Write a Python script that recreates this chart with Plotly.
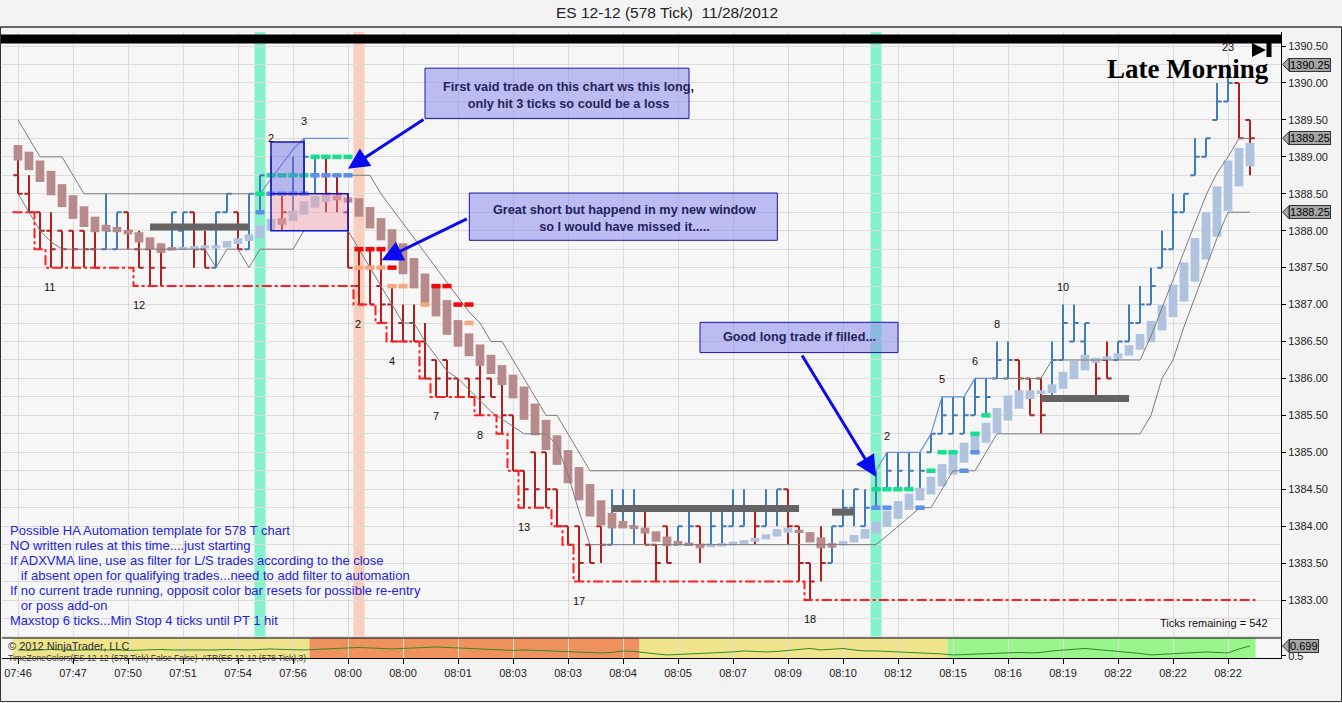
import plotly.graph_objects as go

# ---------------- data ----------------
time_labels = ["07:46", "07:47", "07:50", "07:51", "07:54", "07:56", "08:00", "08:00",
               "08:01", "08:03", "08:03", "08:04", "08:05", "08:07", "08:09", "08:10",
               "08:12", "08:15", "08:16", "08:19", "08:22", "08:22", "08:22"]
tick_bars = [0, 5, 10, 15, 20, 25, 30, 35, 40, 45, 50, 55, 60, 65, 70, 75, 80, 85, 90, 95, 100, 105, 110]

bar_open = [1388.75, 1388.5, 1388.25, 1388.0, 1388.0, 1388.0, 1388.0, 1387.75, 1387.75, 1387.75,
            1388.25, 1387.75, 1387.75, 1387.75, 1387.75, 1388.0, 1388.25, 1387.75, 1387.5, 1388.25,
            1388.25, 1387.75, 1388.5, 1388.5, 1388.5, 1388.25, 1388.75, 1388.75, 1389.0, 1388.75,
            1388.25, 1387.25, 1387.5, 1387.25, 1387.0, 1386.75, 1386.75, 1386.5, 1386.25, 1386.25,
            1386.0, 1386.0, 1386.0, 1386.0, 1386.0, 1385.5, 1384.75, 1385.0, 1385.0, 1384.5,
            1384.0, 1384.0, 1383.75, 1384.0, 1383.75, 1384.0, 1384.0, 1384.25, 1383.75, 1384.0,
            1383.75, 1383.75, 1384.0, 1383.75, 1383.75, 1384.0, 1384.0, 1384.25, 1384.0, 1384.25,
            1384.5, 1384.0, 1383.5, 1383.75, 1383.5, 1384.0, 1384.25, 1384.0, 1384.25, 1384.5,
            1384.5, 1384.5, 1384.5, 1385.0, 1385.25, 1385.25, 1385.25, 1385.5, 1385.5, 1386.0,
            1386.0, 1386.25, 1386.0, 1386.0, 1385.75, 1386.25, 1386.5, 1386.5, 1386.25, 1386.25,
            1386.25, 1386.5, 1386.75, 1387.0, 1387.5, 1387.75, 1388.25, 1388.75, 1389.0, 1389.5,
            1389.75, 1390.0, 1389.5]
bar_high = [1389.0, 1388.75, 1388.25, 1388.25, 1388.0, 1388.0, 1388.0, 1388.0, 1388.5, 1388.25,
            1388.25, 1388.0, 1387.75, 1387.75, 1388.25, 1388.25, 1388.25, 1388.0, 1388.25, 1388.5,
            1388.25, 1388.5, 1388.75, 1389.0, 1388.5, 1389.0, 1389.25, 1389.0, 1389.0, 1388.75,
            1388.5, 1387.75, 1387.75, 1387.75, 1387.25, 1387.0, 1387.0, 1386.75, 1386.25, 1386.25,
            1386.0, 1386.0, 1386.25, 1386.0, 1386.0, 1385.5, 1384.75, 1385.0, 1385.0, 1384.5,
            1384.0, 1384.0, 1383.75, 1384.0, 1384.5, 1384.5, 1384.5, 1384.25, 1383.75, 1384.0,
            1384.0, 1384.25, 1384.0, 1384.25, 1384.25, 1384.5, 1384.5, 1384.25, 1384.5, 1384.5,
            1384.5, 1384.0, 1383.5, 1384.0, 1384.0, 1384.5, 1384.5, 1384.5, 1384.75, 1385.0,
            1385.0, 1385.0, 1385.0, 1385.25, 1385.75, 1385.75, 1385.75, 1386.0, 1386.0, 1386.5,
            1386.5, 1386.25, 1386.0, 1386.0, 1386.5, 1387.0, 1387.0, 1386.75, 1386.25, 1386.5,
            1386.5, 1387.0, 1387.25, 1387.5, 1388.0, 1388.5, 1388.5, 1389.25, 1389.25, 1390.0,
            1390.25, 1390.0, 1389.5]
bar_low = [1388.5, 1388.25, 1387.75, 1387.5, 1387.5, 1387.5, 1387.5, 1387.5, 1387.75, 1387.75,
           1387.75, 1387.5, 1387.25, 1387.25, 1387.75, 1387.75, 1387.5, 1387.5, 1387.5, 1388.25,
           1387.75, 1387.75, 1388.25, 1388.5, 1388.0, 1388.25, 1388.5, 1388.5, 1388.25, 1388.25,
           1387.5, 1387.0, 1387.0, 1386.75, 1386.5, 1386.5, 1386.5, 1386.0, 1385.75, 1385.75,
           1385.75, 1385.75, 1385.5, 1385.75, 1385.25, 1384.75, 1384.25, 1384.25, 1384.25, 1384.0,
           1383.75, 1383.25, 1383.5, 1383.5, 1383.75, 1384.0, 1383.75, 1383.75, 1383.25, 1383.5,
           1383.75, 1383.75, 1383.5, 1383.75, 1383.75, 1384.0, 1384.0, 1383.75, 1384.0, 1384.0,
           1383.75, 1383.25, 1383.0, 1383.25, 1383.5, 1384.0, 1384.0, 1384.0, 1384.25, 1384.5,
           1384.5, 1384.5, 1384.5, 1385.0, 1385.25, 1385.25, 1385.25, 1385.5, 1385.5, 1386.0,
           1386.0, 1385.75, 1385.5, 1385.25, 1385.75, 1386.25, 1386.5, 1386.25, 1385.75, 1386.0,
           1386.25, 1386.5, 1386.75, 1387.0, 1387.5, 1387.75, 1388.25, 1388.75, 1389.0, 1389.5,
           1389.75, 1389.25, 1388.75]
bar_close = [1388.5, 1388.25, 1388.0, 1387.75, 1387.75, 1387.75, 1387.75, 1387.5, 1388.0, 1388.25,
             1388.0, 1387.5, 1387.5, 1387.5, 1388.25, 1388.25, 1387.75, 1387.5, 1388.25, 1388.5,
             1387.75, 1388.5, 1388.75, 1388.75, 1388.25, 1388.75, 1389.0, 1389.0, 1388.5, 1388.5,
             1387.5, 1387.0, 1387.0, 1387.0, 1386.5, 1386.5, 1386.5, 1386.0, 1386.0, 1386.0,
             1385.75, 1385.75, 1385.75, 1385.75, 1385.5, 1384.75, 1384.5, 1384.5, 1384.5, 1384.0,
             1383.75, 1383.5, 1383.5, 1383.75, 1384.25, 1384.25, 1384.25, 1383.75, 1383.5, 1383.5,
             1384.0, 1384.0, 1383.75, 1384.0, 1384.0, 1384.25, 1384.25, 1384.0, 1384.25, 1384.5,
             1384.0, 1383.5, 1383.25, 1383.5, 1384.0, 1384.25, 1384.5, 1384.25, 1384.5, 1384.75,
             1384.75, 1384.75, 1384.75, 1385.25, 1385.5, 1385.5, 1385.5, 1385.75, 1385.75, 1386.25,
             1386.25, 1386.0, 1385.5, 1385.5, 1386.25, 1386.75, 1386.75, 1386.75, 1386.0, 1386.0,
             1386.5, 1386.75, 1387.0, 1387.25, 1387.75, 1388.25, 1388.5, 1389.0, 1389.25, 1389.75,
             1390.0, 1389.25, 1389.25]

ha_open = [1389.16, 1389.07, 1388.95, 1388.81, 1388.63, 1388.48, 1388.33, 1388.19, 1388.08, 1388.05,
           1388.01, 1387.98, 1387.91, 1387.83, 1387.77, 1387.75, 1387.76, 1387.77, 1387.76, 1387.77,
           1387.82, 1387.86, 1387.90, 1388.00, 1388.17, 1388.13, 1388.22, 1388.31, 1388.39, 1388.48,
           1388.45, 1388.44, 1388.32, 1388.17, 1388.02, 1387.83, 1387.63, 1387.42, 1387.24, 1387.06,
           1386.79, 1386.61, 1386.46, 1386.32, 1386.18, 1386.05, 1385.89, 1385.66, 1385.44, 1385.23,
           1385.03, 1384.80, 1384.57, 1384.35, 1384.18, 1384.07, 1384.01, 1383.98, 1383.93, 1383.86,
           1383.80, 1383.765, 1383.76, 1383.73, 1383.74, 1383.74, 1383.76, 1383.79, 1383.82, 1383.86,
           1383.91, 1383.95, 1383.92, 1383.85, 1383.77, 1383.74, 1383.78, 1383.83, 1383.90, 1383.99,
           1384.10, 1384.22, 1384.35, 1384.43, 1384.54, 1384.70, 1384.86, 1384.98, 1385.13, 1385.26,
           1385.43, 1385.59, 1385.72, 1385.79, 1385.80, 1385.86, 1385.99, 1386.11, 1386.21, 1386.25,
           1386.27, 1386.31, 1386.39, 1386.49, 1386.65, 1386.83, 1387.04, 1387.31, 1387.61, 1387.92,
           1388.27, 1388.60, 1388.87]
ha_close = [1388.95, 1388.82, 1388.66, 1388.48, 1388.32, 1388.16, 1388.05, 1387.98, 1387.99, 1387.98,
            1387.95, 1387.84, 1387.75, 1387.70, 1387.74, 1387.77, 1387.78, 1387.79, 1387.80, 1387.86,
            1387.90, 1387.95, 1388.07, 1388.16, 1388.08, 1388.27, 1388.40, 1388.47, 1388.49, 1388.41,
            1388.38, 1388.19, 1388.03, 1387.87, 1387.71, 1387.41, 1387.22, 1387.02, 1386.84, 1386.59,
            1386.43, 1386.30, 1386.17, 1386.06, 1385.91, 1385.73, 1385.44, 1385.23, 1385.03, 1384.83,
            1384.58, 1384.35, 1384.13, 1384.01, 1383.97, 1383.97, 1383.96, 1383.90, 1383.79, 1383.73,
            1383.74, 1383.745, 1383.70, 1383.745, 1383.755, 1383.79, 1383.81, 1383.84, 1383.89, 1383.96,
            1383.98, 1383.91, 1383.78, 1383.70, 1383.71, 1383.80, 1383.88, 1383.96, 1384.06, 1384.21,
            1384.34, 1384.44, 1384.52, 1384.67, 1384.84, 1384.99, 1385.13, 1385.27, 1385.40, 1385.60,
            1385.77, 1385.84, 1385.84, 1385.84, 1385.92, 1386.09, 1386.24, 1386.32, 1386.28, 1386.30,
            1386.34, 1386.45, 1386.60, 1386.78, 1386.99, 1387.27, 1387.57, 1387.90, 1388.25, 1388.60,
            1388.95, 1389.12, 1389.19]

# channel lines (None = not drawn)
line_a = [1389.5, 1389.25, 1389.0, 1389.0, 1389.0, 1388.75, 1388.5, 1388.5, 1388.5, 1388.5,
          1388.5, 1388.5, 1388.5, 1388.5, 1388.5, 1388.5, 1388.5, 1388.5, 1388.5, 1388.5,
          1388.5, 1388.5, None, None, None, None, None, None, None, None,
          1388.75, 1388.75, 1388.75, 1388.5, 1388.3, 1388.1, 1387.9, 1387.7, 1387.5, 1387.3,
          1387.1, 1386.9, 1386.75, 1386.5, 1386.5, 1386.25, 1386.0, 1385.75, 1385.5, 1385.5,
          1385.25, 1385.0, 1384.75, 1384.75, 1384.75, 1384.75, 1384.75, 1384.75, 1384.75, 1384.75,
          1384.75, 1384.75, 1384.75, 1384.75, 1384.75, 1384.75, 1384.75, 1384.75, 1384.75, 1384.75,
          1384.75, 1384.75, 1384.75, 1384.75, 1384.75, 1384.75, 1384.75, 1384.75, 1384.75, None,
          None, None, None, None, None, None, None, None, None, 1386.0,
          1386.0, 1386.0, 1386.0, 1386.0, 1386.25, 1386.25, 1386.25, 1386.25, 1386.25, 1386.25,
          1386.25, 1386.25, 1386.25, 1386.57, 1386.95, 1387.33, 1387.7, 1388.1, 1388.48, 1388.78,
          1389.0, 1389.25, 1389.25]
line_b = [1388.5, 1388.25, 1388.0, 1387.85, 1387.75, 1387.75, 1387.75, 1387.75, 1387.75, 1387.75,
          1387.75, 1387.75, 1387.75, 1387.75, 1387.75, 1387.75, 1387.75, 1387.75, 1387.5, 1387.75,
          1387.75, 1387.5, 1387.75, 1387.75, 1387.75, 1387.75, 1388.0, 1388.0, 1388.0, 1388.0,
          1388.0, 1387.75, 1387.5, 1387.25, 1387.0, 1386.75, 1386.75, 1386.5, 1386.3, 1386.1,
          1386.0, 1385.85, 1385.7, 1385.55, 1385.45, 1385.35, 1385.25, 1385.25, 1385.25, 1385.1,
          1384.7, 1384.2, 1383.75, 1383.75, 1383.75, 1383.75, 1383.75, 1383.75, 1383.75, 1383.75,
          1383.75, 1383.75, 1383.75, 1383.75, 1383.75, 1383.75, 1383.75, 1383.75, 1383.75, 1383.75,
          1383.75, 1383.75, 1383.75, 1383.75, 1383.75, 1383.75, 1383.75, 1383.75, 1383.75, 1383.87,
          1384.0, 1384.12, 1384.25, 1384.25, 1384.5, 1384.75, 1384.75, 1384.75, 1385.0, 1385.25,
          1385.25, 1385.25, 1385.25, 1385.25, 1385.25, 1385.25, 1385.25, 1385.25, 1385.25, 1385.25,
          1385.25, 1385.25, 1385.25, 1385.5, 1386.0, 1386.25, 1386.7, 1387.1, 1387.5, 1387.9,
          1388.25, 1388.25, 1388.25]

trail1_bars = [21, 22, 23, 24, 25, 26, 27, 28, 29, 30]
trail1 = [1388.5, 1388.5, 1388.7, 1388.9, 1389.1, 1389.25, 1389.25, 1389.25, 1389.25, 1389.25]
trail2_bars = [78, 79, 80, 81, 82, 83, 84, 85, 86, 87, 88, 89]
trail2 = [1384.75, 1385.0, 1385.0, 1385.0, 1385.0, 1385.25, 1385.75, 1385.75, 1385.75, 1386.0, 1386.0, 1386.0]

stop_line = [1388.25, 1388.25, 1387.75, 1387.5, 1387.5, 1387.5, 1387.5, 1387.5, 1387.5, 1387.5,
             1387.5, 1387.25, 1387.25, 1387.25, 1387.25, 1387.25, 1387.25, 1387.25, 1387.25, 1387.25,
             1387.25, 1387.25, 1387.25, 1387.25, 1387.25, 1387.25, 1387.25, 1387.25, 1387.25, 1387.25,
             1387.25, 1387.0, 1387.0, 1386.75, 1386.5, 1386.5, 1386.5, 1386.0, 1385.75, 1385.75,
             1385.75, 1385.75, 1385.5, 1385.5, 1385.25, 1384.75, 1384.25, 1384.25, 1384.25, 1384.0,
             1383.75, 1383.25, 1383.25, 1383.25, 1383.25, 1383.25, 1383.25, 1383.25, 1383.25, 1383.25,
             1383.25, 1383.25, 1383.25, 1383.25, 1383.25, 1383.25, 1383.25, 1383.25, 1383.25, 1383.25,
             1383.25, 1383.25, 1383.0, 1383.0, 1383.0, 1383.0, 1383.0, 1383.0, 1383.0, 1383.0,
             1383.0, 1383.0, 1383.0, 1383.0, 1383.0, 1383.0, 1383.0, 1383.0, 1383.0, 1383.0,
             1383.0, 1383.0, 1383.0, 1383.0, 1383.0, 1383.0, 1383.0, 1383.0, 1383.0, 1383.0,
             1383.0, 1383.0, 1383.0, 1383.0, 1383.0, 1383.0, 1383.0, 1383.0, 1383.0, 1383.0,
             1383.0, 1383.0, 1383.0]

# ADXVMA flat segments: (first bar, last bar, value)
adx_segments = [(12, 21, 1388.05), (54, 71, 1384.24), (74, 76, 1384.19), (93, 101, 1385.73)]

# trade level dashes
target_green_bars = [22, 23, 24, 25, 26, 27, 28, 29, 30, 78, 79, 80, 81, 83, 84, 85, 87, 88]
target_green = [1388.5, 1388.75, 1388.75, 1388.75, 1388.75, 1389.0, 1389.0, 1389.0, 1389.0,
                1384.5, 1384.5, 1384.5, 1384.5, 1384.75, 1385.0, 1385.0, 1385.25, 1385.5]
entry_blue_bars = [22, 23, 24, 25, 26, 27, 28, 29, 30, 78, 79, 82, 86, 87]
entry_blue = [1388.25, 1388.5, 1388.5, 1388.5, 1388.5, 1388.75, 1388.75, 1388.75, 1388.75,
              1384.25, 1384.25, 1384.25, 1384.75, 1385.0]
short_red_bars = [31, 32, 33, 34, 38, 39, 40, 41]
short_red = [1387.75, 1387.75, 1387.75, 1387.5, 1387.25, 1387.25, 1387.0, 1387.0]
short_orange_bars = [31, 32, 33, 34, 35, 37, 41]
short_orange = [1387.5, 1387.5, 1387.5, 1387.25, 1387.25, 1387.0, 1386.75]

atr = [0.62, 0.61, 0.62, 0.63, 0.62, 0.61, 0.62, 0.62, 0.63, 0.62,
       0.61, 0.62, 0.62, 0.63, 0.62, 0.62, 0.61, 0.62, 0.62, 0.63,
       0.62, 0.62, 0.63, 0.64, 0.63, 0.62, 0.62, 0.63, 0.64, 0.65,
       0.66, 0.67, 0.66, 0.65, 0.64, 0.65, 0.66, 0.67, 0.68, 0.67,
       0.66, 0.65, 0.64, 0.63, 0.62, 0.61, 0.62, 0.61, 0.60, 0.60,
       0.59, 0.58, 0.57, 0.56, 0.57, 0.60, 0.59, 0.56, 0.54, 0.52,
       0.53, 0.54, 0.55, 0.55, 0.56, 0.58, 0.60, 0.59, 0.58, 0.59,
       0.61, 0.63, 0.65, 0.62, 0.63, 0.65, 0.62, 0.60, 0.60, 0.59,
       0.58, 0.57, 0.57, 0.56, 0.54, 0.52, 0.53, 0.54, 0.55, 0.56,
       0.56, 0.57, 0.56, 0.57, 0.60, 0.62, 0.64, 0.65, 0.63, 0.61,
       0.60, 0.58, 0.55, 0.52, 0.53, 0.54, 0.55, 0.57, 0.58, 0.57,
       0.56, 0.64, 0.699]

# time-zone colour bands in the lower panel: (from bar, to bar, colour)
zone_bands = [(-0.5, 26.5, "#EFE38C"), (26.5, 56.5, "#F0925E"), (56.5, 84.5, "#EFE38C"), (84.5, 112.5, "#9AF58C")]
# highlighted bars
signal_bars = [(22, "#86F2CB"), (31, "#F8CFBC"), (78, "#86F2CB")]

# trade boxes (bar from, bar to, price low, price high)
long_box = (23.0, 26.0, 1388.5, 1389.2)
stop_box = (23.0, 30.0, 1388.0, 1388.5)

count_bars = [2.9, 11.0, 23.0, 26.0, 30.9, 34.0, 38.0, 42.0, 46.0, 51.0, 72.0, 79.0, 84.0, 87.0, 89.0, 95.0, 110.0]
count_prices = [1387.24, 1387.0, 1389.25, 1389.48, 1386.74, 1386.24, 1385.49, 1385.23, 1383.99, 1382.99,
                1382.74, 1385.22, 1385.99, 1386.24, 1386.74, 1387.24, 1390.49]
count_texts = ["11", "12", "2", "3", "2", "4", "7", "8", "13", "17", "18", "2", "5", "6", "8", "10", "23"]

callouts = [
    dict(box=(37.0, 61.0, 1389.52, 1390.20), tx=50.0, ty=1389.83,
         text="First vaid trade on this chart ws this long,<br>only hit 3 ticks so could be a loss",
         head=(30.0, 1388.84), tail=(37.0, 1389.52)),
    dict(box=(41.03, 69.03, 1387.87, 1388.51), tx=55.1, ty=1388.17,
         text="Great short but happend in my new window<br>so I would have missed it.....",
         head=(33.06, 1387.60), tail=(40.94, 1388.17)),
    dict(box=(62.0, 80.0, 1386.35, 1386.76), tx=71.0, ty=1386.56,
         text="Good long trade if filled...",
         head=(78.0, 1384.67), tail=(71.2, 1386.33)),
]

notes = ["Possible HA Automation template for 578 T chart",
         "NO written rules at this time....just starting",
         "If ADXVMA line, use as filter for L/S trades according to the close",
         "\u00a0\u00a0\u00a0if absent open for qualifying trades...need to add filter to automation",
         "If no current trade running, opposit color bar resets for possible re-entry",
         "\u00a0\u00a0\u00a0or poss add-on",
         "Maxstop 6 ticks...Min Stop 4 ticks until PT 1 hit"]

price_markers = [1390.25, 1389.25, 1388.25]
atr_marker = 0.699

# ---------------- geometry ----------------
W, H = 1342, 703
ML, MR, MT, MB = 2, 61, 32, 45
PW, PH = W - ML - MR, H - MT - MB
IND_FRAC = 20 / PH
FONT = "Liberation Sans, Arial, sans-serif"
Y_LO, Y_HI = 1382.486, 1390.69


def px_x(px):
    return (px - ML) / PW


def px_y(py):
    return 1 - (py - MT) / PH


bars = list(range(len(bar_open)))
fig = go.Figure()

# real OHLC bars
fig.add_trace(go.Ohlc(
    x=bars, open=bar_open, high=bar_high, low=bar_low, close=bar_close,
    increasing=dict(line=dict(color="#3E7DB9", width=2)),
    decreasing=dict(line=dict(color="#B0201E", width=2)),
    tickwidth=0.42, showlegend=False, hoverinfo="skip", xaxis="x", yaxis="y"))

# Heikin-Ashi bodies
up_x, up_y, dn_x, dn_y = [], [], [], []
for i, (o, c) in enumerate(zip(ha_open, ha_close)):
    lo, hi = min(o, c), max(o, c)
    if hi - lo < 0.045:
        mid = (hi + lo) / 2
        lo, hi = mid - 0.0225, mid + 0.0225
    if c >= o:
        up_x += [i, i, None]
        up_y += [lo, hi, None]
    else:
        dn_x += [i, i, None]
        dn_y += [lo, hi, None]
fig.add_trace(go.Scatter(x=dn_x, y=dn_y, mode="lines", line=dict(color="#B78B8B", width=8.7),
                         showlegend=False, hoverinfo="skip"))
fig.add_trace(go.Scatter(x=up_x, y=up_y, mode="lines", line=dict(color="#AFC3DE", width=8.7),
                         showlegend=False, hoverinfo="skip"))

# channel lines
fig.add_trace(go.Scatter(x=bars, y=line_a, mode="lines", line=dict(color="#7C7C7C", width=1),
                         connectgaps=False, showlegend=False, hoverinfo="skip"))
fig.add_trace(go.Scatter(x=bars, y=line_b, mode="lines", line=dict(color="#7C7C7C", width=1),
                         showlegend=False, hoverinfo="skip"))
fig.add_trace(go.Scatter(x=trail1_bars, y=trail1, mode="lines", line=dict(color="#6B8FD6", width=1.2),
                         showlegend=False, hoverinfo="skip"))
fig.add_trace(go.Scatter(x=trail2_bars, y=trail2, mode="lines", line=dict(color="#6B8FD6", width=1.2),
                         showlegend=False, hoverinfo="skip"))

# stop line (step)
stop_x = [i - 0.5 for i in bars] + [len(bars) - 0.5]
stop_y = stop_line + [stop_line[-1]]
fig.add_trace(go.Scatter(x=stop_x, y=stop_y, mode="lines",
                         line=dict(color="#FF1E1E", width=2, dash="10px,3px,3px,3px", shape="hv"),
                         showlegend=False, hoverinfo="skip"))

# ADXVMA flat segments
ax_, ay_ = [], []
for b0, b1, v in adx_segments:
    ax_ += [b0, b1, None]
    ay_ += [v, v, None]
fig.add_trace(go.Scatter(x=ax_, y=ay_, mode="lines", line=dict(color="#646464", width=7),
                         showlegend=False, hoverinfo="skip"))

# trade level dashes
for xs, ys, col in [(entry_blue_bars, entry_blue, "#5E8FE6"), (target_green_bars, target_green, "#12E08E"),
                    (short_orange_bars, short_orange, "#F5A77F"), (short_red_bars, short_red, "#EE0A0A")]:
    fig.add_trace(go.Scatter(x=xs, y=ys, mode="markers",
                             marker=dict(symbol="line-ew", size=6.5, line=dict(color=col, width=4.5)),
                             showlegend=False, hoverinfo="skip"))

# ATR line in lower panel
fig.add_trace(go.Scatter(x=bars, y=atr, mode="lines", line=dict(color="#2E8B2E", width=1),
                         xaxis="x", yaxis="y2", showlegend=False, hoverinfo="skip"))

shapes = []
for b, col in signal_bars:
    shapes.append(dict(type="rect", xref="x", yref="y domain", x0=b - 0.5, x1=b + 0.5, y0=0, y1=1,
                       fillcolor=col, line=dict(width=0), layer="below"))
for b0, b1, col in zone_bands:
    shapes.append(dict(type="rect", xref="x", yref="y2 domain", x0=b0, x1=b1, y0=0, y1=1,
                       fillcolor=col, line=dict(width=0), layer="below"))
shapes.append(dict(type="rect", xref="x", yref="y", x0=long_box[0], x1=long_box[1], y0=long_box[2], y1=long_box[3],
                   fillcolor="rgba(105,105,230,0.45)", line=dict(color="#1414C8", width=1.5), layer="above"))
shapes.append(dict(type="rect", xref="x", yref="y", x0=stop_box[0], x1=stop_box[1], y0=stop_box[2], y1=stop_box[3],
                   fillcolor="rgba(240,150,165,0.42)", line=dict(color="#1414C8", width=1.5), layer="above"))
for c in callouts:
    b0, b1, p0, p1 = c["box"]
    shapes.append(dict(type="rect", xref="x", yref="y", x0=b0, x1=b1, y0=p0, y1=p1,
                       fillcolor="rgba(140,140,238,0.55)", line=dict(color="#1818A8", width=1), layer="above"))
# top black bar and end-of-chart glyph
shapes.append(dict(type="rect", xref="paper", yref="paper", x0=px_x(0), x1=px_x(1281), y0=px_y(43.5), y1=px_y(34.5),
                   fillcolor="black", line=dict(width=0), layer="above"))
shapes.append(dict(type="path", xref="paper", yref="paper",
                   path=f"M {px_x(1252)} {px_y(43)} L {px_x(1266)} {px_y(50)} L {px_x(1252)} {px_y(57)} Z",
                   fillcolor="black", line=dict(width=0), layer="above"))
shapes.append(dict(type="rect", xref="paper", yref="paper", x0=px_x(1266.5), x1=px_x(1271.5), y0=px_y(57), y1=px_y(40),
                   fillcolor="black", line=dict(width=0), layer="above"))
# panel separators and frame
shapes.append(dict(type="line", xref="paper", yref="paper", x0=0, x1=1, y0=IND_FRAC, y1=IND_FRAC,
                   line=dict(color="black", width=1), layer="above"))
shapes.append(dict(type="line", xref="paper", yref="paper", x0=px_x(0), x1=px_x(W), y0=px_y(27), y1=px_y(27),
                   line=dict(color="#444444", width=1), layer="above"))
shapes.append(dict(type="rect", xref="paper", yref="paper", x0=px_x(0.5), x1=px_x(W - 0.5), y0=px_y(H - 1.5), y1=px_y(27),
                   line=dict(color="#333333", width=1), fillcolor="rgba(0,0,0,0)", layer="above"))
# price marker pointers
d = 6.5 / (PH * (1 - IND_FRAC)) * (Y_HI - Y_LO)
for p in price_markers:
    shapes.append(dict(type="path", xref="paper", yref="y",
                       path=f"M {px_x(1282.5)} {p} L {px_x(1289)} {p + d} L {px_x(1289)} {p - d} Z",
                       fillcolor="#A6A6A6", line=dict(color="#333333", width=1), layer="above"))
d2 = 6.5 / 20 * 0.4
shapes.append(dict(type="path", xref="paper", yref="y2",
                   path=f"M {px_x(1282.5)} {atr_marker} L {px_x(1289)} {atr_marker + d2} L {px_x(1289)} {atr_marker - d2} Z",
                   fillcolor="#A6A6A6", line=dict(color="#333333", width=1), layer="above"))

ann = []
ann.append(dict(xref="paper", yref="paper", x=px_x(667), y=px_y(13), yanchor="middle",
                text="ES 12-12 (578 Tick)  11/28/2012",
                showarrow=False, font=dict(family=FONT, size=15.5, color="#222222")))
for b, p, t in zip(count_bars, count_prices, count_texts):
    ann.append(dict(x=b, y=p, xref="x", yref="y", text=t, showarrow=False,
                    font=dict(family=FONT, size=11, color="#111111")))
for c in callouts:
    ann.append(dict(x=c["tx"], y=c["ty"], xref="x", yref="y", text="<b>" + c["text"] + "</b>", showarrow=False,
                    align="center", font=dict(family=FONT, size=12.7, color="#22225E")))
    ann.append(dict(x=c["head"][0], y=c["head"][1], ax=c["tail"][0], ay=c["tail"][1], xref="x", yref="y",
                    axref="x", ayref="y", text="", showarrow=True, arrowhead=2, arrowsize=1.4, arrowwidth=3,
                    arrowcolor="#0A0AF0", standoff=0))
for k, line in enumerate(notes):
    ann.append(dict(xref="paper", yref="paper", x=px_x(8), y=px_y(530 + 15.1 * k), xanchor="left", yanchor="middle",
                    text=line, showarrow=False, font=dict(family=FONT, size=13, color="#2424DA")))
ann.append(dict(xref="paper", yref="paper", x=px_x(1270), y=px_y(623), xanchor="right", yanchor="middle",
                text="Ticks remaining = 542", showarrow=False, font=dict(family=FONT, size=11, color="#111111")))
ann.append(dict(xref="paper", yref="paper", x=px_x(6), y=px_y(646), xanchor="left", yanchor="middle",
                text="© 2012 NinjaTrader, LLC", showarrow=False, font=dict(family=FONT, size=11, color="#2A2A2A")))
ann.append(dict(xref="paper", yref="paper", x=px_x(6), y=px_y(657.5), xanchor="left", yanchor="middle",
                text="TimeZoneColors(ES 12-12 (578 Tick) False False)  ATR(ES 12-12 (578 Tick),3)", showarrow=False,
                font=dict(family=FONT, size=8.5, color="#3A3A3A")))
ann.append(dict(xref="paper", yref="paper", x=px_x(1188), y=px_y(69), xanchor="center", yanchor="middle",
                text="<b>Late Morning</b>", showarrow=False,
                font=dict(family="Liberation Serif, Times New Roman, serif", size=27, color="black")))
for p in price_markers:
    ann.append(dict(xref="paper", yref="y", x=px_x(1289), y=p, xanchor="left", yanchor="middle",
                    text=f"{p:.2f}", showarrow=False, bgcolor="#A6A6A6", bordercolor="#333333", borderwidth=1,
                    borderpad=0, font=dict(family=FONT, size=11, color="black")))
ann.append(dict(xref="paper", yref="y2", x=px_x(1289), y=atr_marker, xanchor="left", yanchor="middle",
                text=f"{atr_marker:.3f}", showarrow=False, bgcolor="#A6A6A6", bordercolor="#333333", borderwidth=1,
                borderpad=0, font=dict(family=FONT, size=11, color="black")))

price_ticks = [1383.0, 1383.5, 1384.0, 1384.5, 1385.0, 1385.5, 1386.0, 1386.5,
               1387.0, 1387.5, 1388.0, 1388.5, 1389.0, 1389.5, 1390.0, 1390.5]
fig.update_layout(
    width=W, height=H, margin=dict(l=ML, r=MR, t=MT, b=MB),
    paper_bgcolor="#F3F3F3", plot_bgcolor="#F6F6F6",
    showlegend=False, hovermode=False,
    shapes=shapes, annotations=ann,
    xaxis=dict(domain=[0, 1], anchor="y2", range=[-16 / 11.0, (1281 - 18) / 11.0],
               tickvals=tick_bars, ticktext=time_labels, showgrid=True, gridcolor="#DCDCDC", gridwidth=1,
               ticks="outside", ticklen=5, tickcolor="black", tickfont=dict(family=FONT, size=11, color="#222222"),
               showline=True, linecolor="black", zeroline=False, rangeslider=dict(visible=False), fixedrange=True),
    yaxis=dict(domain=[IND_FRAC, 1], anchor="x", side="right", range=[Y_LO, Y_HI],
               tickvals=price_ticks, ticktext=[f"{v:.2f}" for v in price_ticks],
               showgrid=True, gridcolor="#DCDCDC", ticks="outside", ticklen=4, tickcolor="black",
               tickfont=dict(family=FONT, size=11, color="#222222"), showline=True, linecolor="black",
               zeroline=False, minor=dict(dtick=0.25, tick0=1383.0, showgrid=True, gridcolor="#DCDCDC", ticks="")),
    yaxis2=dict(domain=[0, IND_FRAC], anchor="x", side="right", range=[0.459, 0.859],
                tickvals=[0.5], ticktext=["0.5"], showgrid=False, ticks="outside", ticklen=4, tickcolor="black",
                tickfont=dict(family=FONT, size=11, color="#222222"), showline=True, linecolor="black", zeroline=False),
)

fig.write_html("out.html", config={"displayModeBar": False},
               post_script="document.body.style.margin='0px';document.body.style.overflow='hidden';")
